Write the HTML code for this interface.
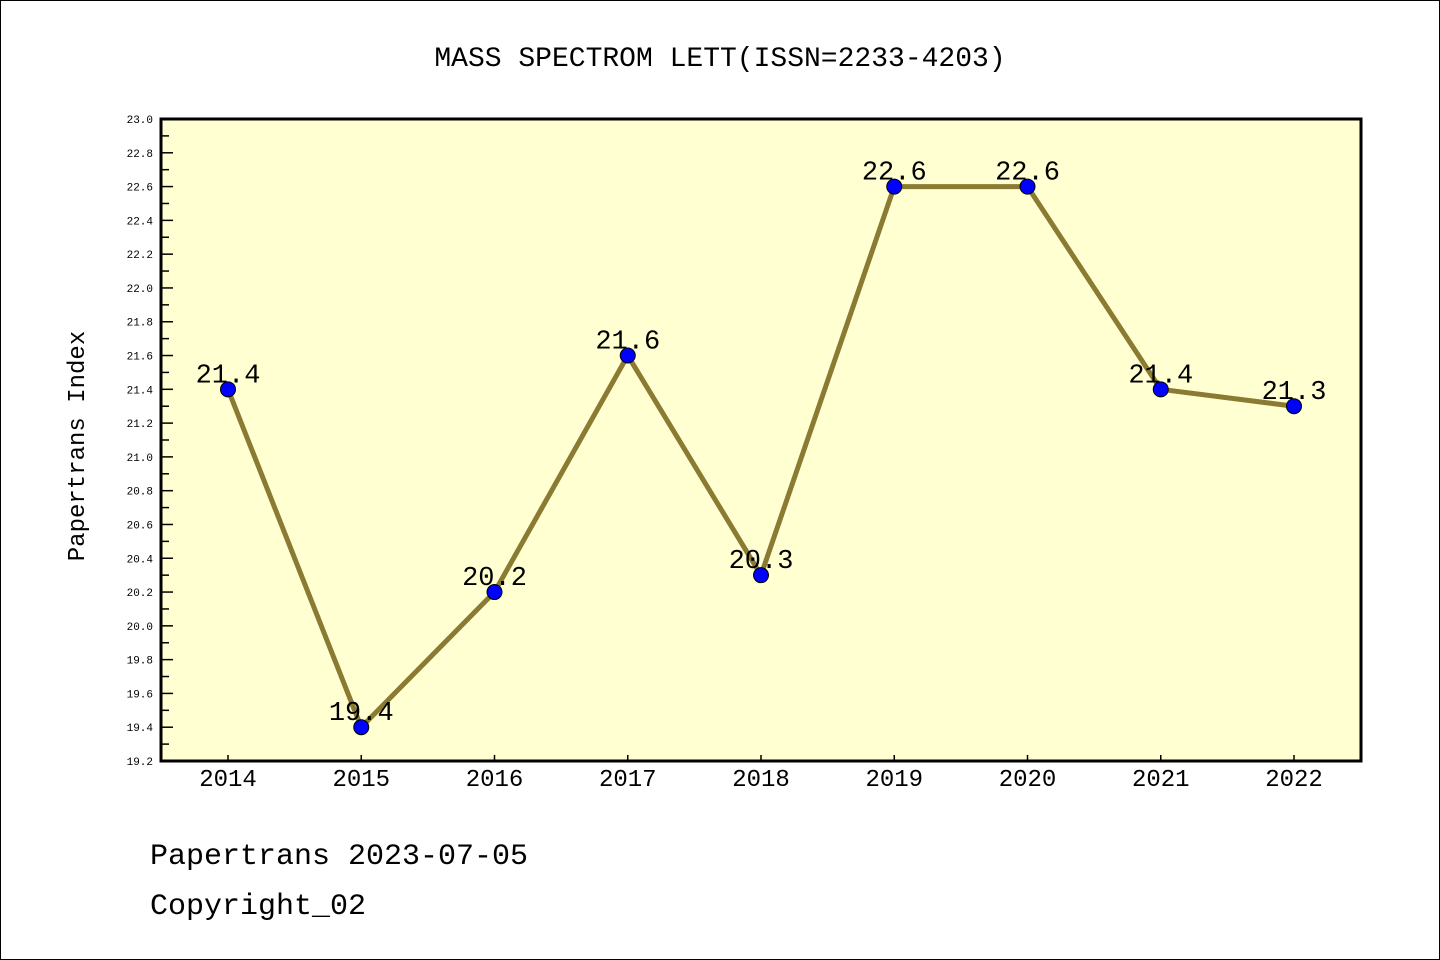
<!DOCTYPE html>
<html><head><meta charset="utf-8"><style>
html,body{margin:0;padding:0;background:#fff}
svg{display:block}
text{font-family:"Liberation Mono","DejaVu Sans Mono",monospace}
</style></head><body>
<svg id="chart" width="1440" height="960" viewBox="0 0 1440 960" xmlns="http://www.w3.org/2000/svg">
<rect x="0.5" y="0.5" width="1439" height="959" fill="#fff" stroke="#000"/>
<text x="720" y="66" text-anchor="middle" font-size="28">MASS SPECTROM LETT(ISSN=2233-4203)</text>
<rect x="161" y="119" width="1200" height="642" fill="#ffffd2"/>
<g id="yticks"></g><g id="xticks"></g>
<polyline id="line" fill="none" stroke="#8b7b32" stroke-width="5" stroke-linejoin="round"/>
<g id="pts"></g>
<rect x="161" y="119" width="1200" height="642" fill="none" stroke="#000" stroke-width="3"/>
<text transform="translate(84,446) rotate(-90)" text-anchor="middle" font-size="24">Papertrans Index</text>
<text x="150" y="864" font-size="30">Papertrans 2023-07-05</text>
<text x="150" y="914" font-size="30">Copyright_02</text>
</svg>
<script>
const years=["2014","2015","2016","2017","2018","2019","2020","2021","2022"];
const values=[21.4,19.4,20.2,21.6,20.3,22.6,22.6,21.4,21.3];
const labels=["21.4","19.4","20.2","21.6","20.3","22.6","22.6","21.4","21.3"];
const yMin=19.2,yMax=23.0;
const NS="http://www.w3.org/2000/svg";
const x=i=>228+i*133.25;
const y=v=>761-(v-yMin)/(yMax-yMin)*642;
function mk(t,a,p){const e=document.createElementNS(NS,t);for(const k in a)e.setAttribute(k,a[k]);p.appendChild(e);return e;}
const yt=document.getElementById('yticks');
for(let k=0;k<=38;k++){const v=yMin+k*0.1;const yy=y(v);
 const ln=mk('line',{x1:161,x2:161+(k%2?8:12),y1:yy,y2:yy,stroke:'#000','stroke-width':1.5},yt);
 
 
 if(k%2==0){const t=mk('text',{x:153,y:yy+4,'text-anchor':'end','font-size':11,'font-family':'DejaVu Sans, sans-serif'},yt);t.textContent=v.toFixed(1);
 
 }}
const xt=document.getElementById('xticks');
years.forEach((yr,i)=>{const ln=mk('line',{x1:x(i),x2:x(i),y1:761,y2:755,stroke:'#000','stroke-width':1.5},xt);
 
 
 const t=mk('text',{x:x(i),y:786,'text-anchor':'middle','font-size':24,'font-family':'Liberation Sans, sans-serif'},xt);t.textContent=yr;
 
 });
document.getElementById('line').setAttribute('points',values.map((v,i)=>x(i)+','+y(v)).join(' '));
const pg=document.getElementById('pts');
values.forEach((v,i)=>{const c=mk('circle',{cx:x(i),cy:y(v),r:7.5,fill:'#0000ff',stroke:'#000','stroke-width':1},pg);
 
 
 const t=mk('text',{x:x(i),y:y(v)-7,'text-anchor':'middle','font-size':27,'font-family':'Liberation Sans, sans-serif'},pg);t.textContent=labels[i];
 
 });
</script>
</body></html>
